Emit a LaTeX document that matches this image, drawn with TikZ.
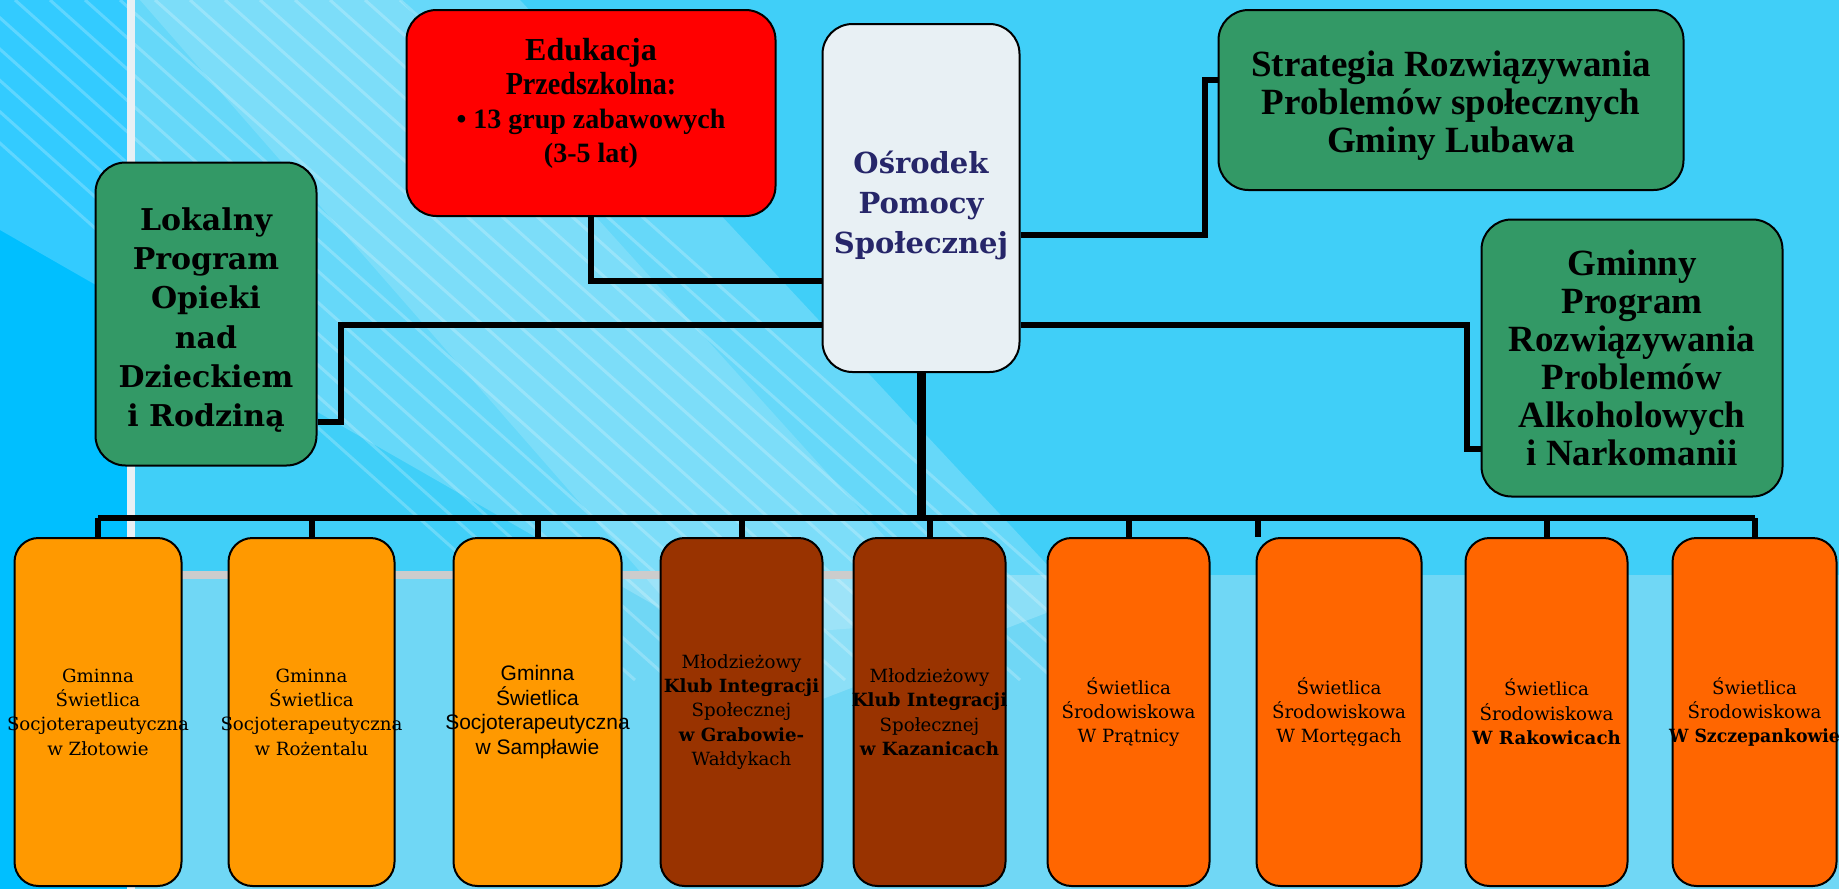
\documentclass[tikz,border=0pt]{standalone}
\usepackage{fontspec}
\setmainfont{Liberation Serif}
\newfontfamily\geo{DejaVu Serif}
\newfontfamily\ari{Liberation Sans}
\usepackage{tikz}
\usetikzlibrary{positioning}
\usetikzlibrary{calc}
\definecolor{sky}{RGB}{64,207,248}
\definecolor{skylow}{RGB}{112,215,245}
\definecolor{deepsky}{RGB}{0,191,255}
\definecolor{progreen}{RGB}{51,153,102}
\definecolor{opsfill}{RGB}{232,240,244}
\definecolor{opsnavy}{RGB}{38,38,105}
\definecolor{lightorange}{RGB}{255,153,0}
\definecolor{deeporange}{RGB}{255,102,0}
\definecolor{klubbrown}{RGB}{153,51,0}
\tikzstyle{link} = [line width=3pt]
\tikzstyle{trunk} = [line width=4.5pt]
\newcommand{\wide}[1]{\makebox[0pt]{#1}}

\begin{document}
\begin{tikzpicture}[
        x=0.5pt, y=-0.5pt,
        box/.style={
            draw,
            line width=1pt,
            rounded corners=15pt,
            align=center,
            inner sep=2pt
        },
        prog/.style={
            box, fill=progreen,
            font=\bfseries\fontsize{18.5}{19}\selectfont % Strategia and Gminny Program
        },
        unit/.style={
            box, rounded corners=12pt,
            minimum height=174pt,
            font=\geo\fontsize{9.1}{12.2}\selectfont
        }
    ]
        % Background
        \useasboundingbox (0,0) rectangle (1839,889);
        \fill[sky] (0,0) rectangle (1839,575);
        \fill[skylow] (0,575) rectangle (1839,889);
        \fill[deepsky] (0,0) rectangle (127,889);
        \begin{scope}
            \clip (0,0) rectangle (1839,889);
            \fill[white, opacity=0.2] (0,0) -- (520,0) -- (1080,600) -- (820,700) -- (0,230) -- cycle;
            \fill[white, opacity=0.15] (140,0) -- (400,0) -- (960,620) -- (700,640) -- cycle;
            \foreach \o in {0,35,...,560}
                \draw[white, opacity=0.22, line width=1.5pt] (\o-160,0) -- ++(760,680);
        \end{scope}
        \fill[opsfill] (127,0) rectangle (135,889);
        \fill[gray!40] (135,571) rectangle (856,579);

        % Central node
        \node[box, fill=opsfill, text=opsnavy, minimum width=98.5pt, minimum height=174pt,
              font=\geo\bfseries\fontsize{14.5}{20}\selectfont] (ops) at (921,198)
              {\rule{0pt}{18.5pt}Ośrodek\\ Pomocy\\ Społecznej};

        % Edukacja Przedszkolna
        \node[box, fill=red, minimum width=184.5pt, minimum height=103pt, text depth=13pt,
              font=\bfseries\fontsize{14}{17}\selectfont, left=22.5pt of ops, yshift=42.5pt] (edu)
              {{\fontsize{16}{17}\selectfont Edukacja}\\ {\fontsize{16}{17}\selectfont\scalebox{0.88}[1]{Przedszkolna:}}\\ • 13 grup zabawowych\\ (3-5 lat)};
        \draw[link] (edu.south) |- ($(ops.west)+(0,83)$);

        % Strategia
        \node[prog, minimum width=232.5pt, minimum height=90pt, right=98.5pt of ops, yshift=49pt] (strat)
              {\rule{0pt}{18.6pt}Strategia Rozwiązywania\\ Problemów społecznych\\ Gminy Lubawa};
        \draw[link] ($(ops.east)+(0,37)$) -| ($(strat.west)+(-13,-20)$) -- ($(strat.west)+(0,-20)$);

        % Gminny Program
        \node[prog, minimum width=150.5pt, minimum height=138.5pt, right=230pt of ops, yshift=-80pt] (alko)
              {Gminny\\ Program\\ Rozwiązywania\\ Problemów\\ Alkoholowych\\ i Narkomanii};
        \draw[link] ($(ops.east)+(0,127)$) -| ($(alko.west)+(-14,91)$) -- ($(alko.west)+(0,91)$);

        % Lokalny Program
        \node[box, fill=progreen, minimum width=110.5pt, minimum height=151.5pt,
              font=\geo\bfseries\fontsize{15}{19.6}\selectfont, left=252pt of ops, yshift=-58pt] (lok)
              {\rule{0pt}{17.4pt}Lokalny\\ Program\\ Opieki\\ nad\\ Dzieckiem\\ i Rodziną};
        \draw[link] ($(ops.west)+(0,127)$) -| ($(lok.east)+(23,108)$) -- ($(lok.east)+(0,108)$);

        % Bottom row
        \node[unit, fill=lightorange, minimum width=83.5pt] (g1) at (98,712)
              {Gminna\\ Świetlica\\ \wide{Socjoterapeutyczna}\\ w Złotowie};
        \node[unit, fill=lightorange, minimum width=83pt, right=22.5pt of g1] (g2)
              {Gminna\\ Świetlica\\ \wide{Socjoterapeutyczna}\\ w Rożentalu};
        \node[unit, fill=lightorange, minimum width=84pt, right=28.5pt of g2,
              font=\ari\fontsize{10.5}{12.2}\selectfont] (g3)
              {Gminna\\ Świetlica\\ \wide{Socjoterapeutyczna}\\ w Sampławie};
        \node[unit, fill=klubbrown, minimum width=81pt, right=18.5pt of g3] (k1)
              {Młodzieżowy\\ \wide{\bfseries Klub Integracji}\\ Społecznej\\ {\bfseries w Grabowie-}\\ Wałdykach};
        \node[unit, fill=klubbrown, minimum width=76pt, right=14.5pt of k1] (k2)
              {Młodzieżowy\\ \wide{\bfseries Klub Integracji}\\ Społecznej\\ {\bfseries w Kazanicach}};
        \node[unit, fill=deeporange, minimum width=81pt, right=20pt of k2] (s1)
              {Świetlica\\ Środowiskowa\\ W Prątnicy};
        \node[unit, fill=deeporange, minimum width=82.5pt, right=22.5pt of s1] (s2)
              {Świetlica\\ Środowiskowa\\ W Mortęgach};
        \node[unit, fill=deeporange, minimum width=81pt, right=21pt of s2] (s3)
              {Świetlica\\ Środowiskowa\\ \wide{\bfseries W Rakowicach}};
        \node[unit, fill=deeporange, minimum width=82pt, right=21.5pt of s3] (s4)
              {Świetlica\\ Środowiskowa\\ \wide{\bfseries\scalebox{0.95}[1]{W Szczepankowie}}};

        % Bus to the bottom row
        \coordinate (bus) at (0,518);
        \coordinate (s2drop) at ($(s2.north west)+(2,0)$);
        \draw[trunk] (ops.south) -- (ops.south |- bus);
        \draw[link] (g1.north |- bus) -- (s4.north |- bus);
        \foreach \n in {g1,g2,g3,k1,k2,s1,s3,s4}
            \draw[link] (\n.north |- bus) -- (\n.north);
        \draw[link] (s2drop |- bus) -- (s2drop);
    \end{tikzpicture}
\end{document}
